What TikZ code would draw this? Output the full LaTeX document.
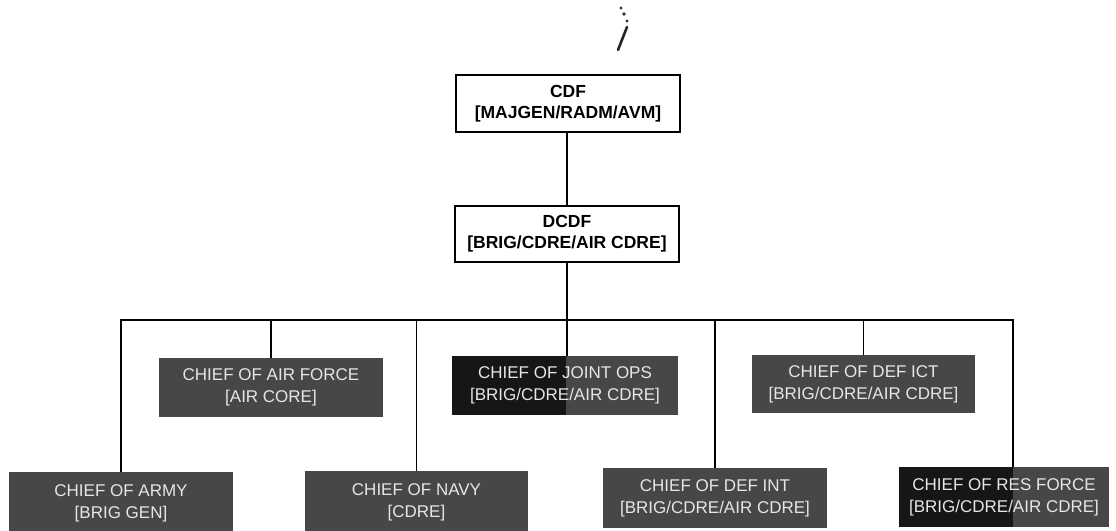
\documentclass[tikz,border=0pt]{standalone}
\usepackage{fontspec}
\setmainfont{Liberation Sans}
\definecolor{boxgray}{HTML}{474747}
\definecolor{boxdark}{HTML}{161616}
\definecolor{boxtext}{HTML}{E6E6E6}
\tikzset{
  topbox/.style={draw=black, line width=1.8pt, fill=white, align=center,
    font=\fontsize{17.5}{21}\selectfont\bfseries, inner sep=0pt},
  graybox/.style={fill=boxgray, text=boxtext, align=center,
    font=\fontsize{17}{22}\selectfont, inner sep=0pt},
  splitbox/.style={path picture={\fill[boxdark] (path picture bounding box.south west) rectangle ([xshift=#1]path picture bounding box.north);}},
  conn/.style={draw=black, line width=1.8pt},
}
\begin{document}
\begin{tikzpicture}[x=1pt,y=-1pt]
\useasboundingbox (0,0) rectangle (1116,530);
\fill[white] (0,0) rectangle (1116,530);

% stray pen mark
\draw[black!85, line width=2.6pt, line cap=round] (618,50) -- (627,27);
\fill[black!80] (621,8) circle (1.6pt) (624,14) circle (1.8pt) (627,21) circle (1.6pt);

\node[topbox, minimum width=224, minimum height=57] (cdf) at (568,103.5) {CDF\\{}[MAJGEN/RADM/AVM]};
\node[topbox, minimum width=224, minimum height=56] (dcdf) at (567,234) {DCDF\\{}[BRIG/CDRE/AIR CDRE]};

\node[graybox, minimum width=224, minimum height=59] (air) at (271,387.5) {CHIEF OF AIR FORCE\\{}[AIR CORE]};
\node[graybox, splitbox=1pt, minimum width=226, minimum height=59] (jops) at (565,385.5) {CHIEF OF JOINT OPS\\{}[BRIG/CDRE/AIR CDRE]};
\node[graybox, minimum width=223, minimum height=58] (ict) at (863.5,384) {CHIEF OF DEF ICT\\{}[BRIG/CDRE/AIR CDRE]};

\node[graybox, minimum width=224, minimum height=62] (army) at (121,503) {CHIEF OF ARMY\\{}[BRIG GEN]};
\node[graybox, minimum width=223, minimum height=62] (navy) at (416.5,502) {CHIEF OF NAVY\\{}[CDRE]};
\node[graybox, minimum width=224, minimum height=60] (int) at (715,498) {CHIEF OF DEF INT\\{}[BRIG/CDRE/AIR CDRE]};
\node[graybox, splitbox=9pt, minimum width=210, minimum height=60] (res) at (1004,497) {CHIEF OF RES FORCE\\{}[BRIG/CDRE/AIR CDRE]};

\coordinate (bus) at (567,320);
\coordinate (resdrop) at ([xshift=9pt]res.north);

\draw[conn] (cdf.south -| dcdf.north) -- (dcdf.north);
\draw[conn] (dcdf.south) -- (dcdf.south |- jops.north);
\draw[conn] (army.north) |- (bus) -| (resdrop);
\draw[conn] (air.north) -- (air.north |- bus);
\draw[conn] (navy.north) -- (navy.north |- bus);
\draw[conn] (int.north) -- (int.north |- bus);
\draw[conn] (ict.north) -- (ict.north |- bus);
\end{tikzpicture}
\end{document}
